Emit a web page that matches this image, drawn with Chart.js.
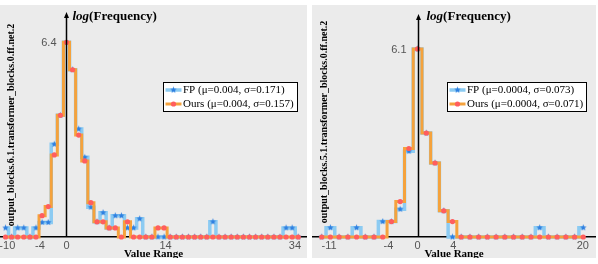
<!DOCTYPE html>
<html>
<head>
<meta charset="utf-8">
<script src="https://cdn.jsdelivr.net/npm/chart.js@4.4.0/dist/chart.umd.min.js"></script>
<style>
  body { margin: 0; background: #fff; width: 598px; height: 264px; position: relative; overflow: hidden; }
  .panel { position: absolute; top: 5px; height: 253px; background: #ebebeb; }
  canvas { display: block; }
</style>
</head>
<body>
<div class="panel" style="left:0;width:307px"><canvas id="c1" width="307" height="253"></canvas></div>
<div class="panel" style="left:312px;width:284px"><canvas id="c2" width="284" height="253"></canvas></div>
<script>
// bins are counted from the peak bin, which sits on the y axis
const leftBins = [-10,-9,-8,-7,-6,-5,-4,-3,-2,-1,0,1,2,3,4,5,6,7,8,9,10,11,12,13,14,15,16,17,18,19,20,21,22,23,24,25,26,27,28,29,30,31,32,33,34,35,36,37,38];
const leftFP   = [0.3,0,0.3,0.3,0,0.3,0.48,0.48,3.05,4.0,6.4,5.5,3.55,2.62,0.98,0.5,0.8,0.3,0.7,0.7,0.3,0.3,0.6,0,0,0,0,0,0,0,0,0,0,0,0.5,0,0,0,0,0,0,0,0,0,0,0,0.3,0.3,0];
const leftOurs = [0,0,0,0,0,0,0.7,1.0,2.7,4.0,6.4,5.5,3.35,2.5,1.13,0.5,0.5,0.3,0.3,0,0.5,0,0,0,0,0.3,0.3,0,0,0,0,0,0,0,0,0,0,0,0,0,0,0,0,0,0,0,0,0,0];
const leftTickAt   = [-9.7, -4.35, 0, 16.25, 37.45];
const leftTickText = ['-10', '-4', '0', '14', '34'];

const rightBins = [-11,-10,-9,-8,-7,-6,-5,-4,-3,-2,-1,0,1,2,3,4,5,6,7,8,9,10,11,12,13,14,15,16,17,18,19];
const rightFP   = [0,0.3,0,0,0.3,0,0,0.5,0.5,0.9,2.78,6.1,3.37,2.4,0.85,0,0,0,0,0,0,0,0,0,0,0.3,0,0,0,0,0.3];
const rightOurs = [0,0,0,0,0,0,0,0,0.5,1.15,2.87,6.1,3.37,2.4,0.85,0.5,0,0,0,0,0,0,0,0,0,0,0,0,0,0,0];
const rightTickAt   = [-10.15, -3.35, 0, 4.1, 18.95];
const rightTickText = ['-11', '-4', '0', '4', '20'];

const SANS = "'Liberation Sans', Arial, sans-serif";
const SERIF = "'Liberation Serif', 'Times New Roman', serif";

function starImage(color, r) {
  const c = document.createElement('canvas');
  const s = Math.ceil(r * 2 + 2);
  c.width = c.height = s;
  const g = c.getContext('2d');
  g.fillStyle = color;
  g.beginPath();
  for (let k = 0; k < 10; k++) {
    const rad = k % 2 ? r * 0.45 : r;
    const a = -Math.PI / 2 + k * Math.PI / 5;
    g.lineTo(s / 2 + rad * Math.cos(a), s / 2 + rad * Math.sin(a));
  }
  g.closePath();
  g.fill();
  return c;
}
const star = starImage('#2f7fe0', 3.4);

// axis arrow, titles, peak label and legend
const decoPlugin = {
  id: 'deco',
  afterDatasetsDraw(chart, args, o) {
    const ctx = chart.ctx;
    const xs = chart.scales.x, ys = chart.scales.y;
    const ax = Math.round(xs.getPixelForValue(0)) + 0.5;
    const bottom = chart.chartArea.bottom;
    ctx.save();
    // y axis with arrow
    ctx.strokeStyle = '#000';
    ctx.lineWidth = 1.5;
    ctx.beginPath();
    ctx.moveTo(ax, bottom);
    ctx.lineTo(ax, o.arrowTop + 4);
    ctx.stroke();
    ctx.fillStyle = '#000';
    ctx.beginPath();
    ctx.moveTo(ax, o.arrowTop);
    ctx.lineTo(ax - 2.5, o.arrowTop + 6);
    ctx.lineTo(ax + 2.5, o.arrowTop + 6);
    ctx.closePath();
    ctx.fill();

    // log(Frequency)
    ctx.textBaseline = 'alphabetic';
    ctx.textAlign = 'left';
    let tx = ax + o.titleDx;
    ctx.font = 'italic bold 13px ' + SERIF;
    ctx.fillText('log', tx, 15);
    tx += ctx.measureText('log').width;
    ctx.font = 'bold 13px ' + SERIF;
    ctx.fillText('(Frequency)', tx, 15);

    // peak value
    ctx.font = '11px ' + SANS;
    ctx.fillStyle = '#555';
    ctx.textAlign = 'right';
    ctx.textBaseline = 'middle';
    ctx.fillText(o.peakText, ax - o.peakDx, ys.getPixelForValue(o.peak) + 1);

    // rotated y title
    ctx.save();
    ctx.translate(o.yTitleX, o.yTitleY);
    ctx.rotate(-Math.PI / 2);
    ctx.font = 'bold 10px ' + SERIF;
    ctx.fillStyle = '#000';
    ctx.textAlign = 'center';
    ctx.fillText(o.yTitle, 0, 0);
    ctx.restore();

    // legend
    const b = o.legendBox;
    ctx.fillStyle = '#fff';
    ctx.fillRect(b[0], b[1], b[2], b[3]);
    ctx.strokeStyle = '#000';
    ctx.lineWidth = 1;
    ctx.strokeRect(b[0] + 0.5, b[1] + 0.5, b[2] - 1, b[3] - 1);
    const rows = [b[1] + 8, b[1] + 22];
    chart.data.datasets.forEach((ds, r) => {
      const y = rows[r];
      ctx.strokeStyle = ds.borderColor;
      ctx.lineWidth = ds.borderWidth;
      ctx.beginPath();
      ctx.moveTo(b[0] + 2.5, y);
      ctx.lineTo(b[0] + 18.5, y);
      ctx.stroke();
      const mx = b[0] + 10.5;
      if (ds.pointStyle === 'circle') {
        ctx.fillStyle = ds.pointBackgroundColor;
        ctx.beginPath();
        ctx.arc(mx, y, ds.pointRadius, 0, Math.PI * 2);
        ctx.fill();
      } else {
        ctx.drawImage(ds.pointStyle, mx - ds.pointStyle.width / 2, y - ds.pointStyle.height / 2);
      }
      ctx.fillStyle = '#000';
      ctx.font = '11px ' + SERIF;
      ctx.textAlign = 'left';
      ctx.textBaseline = 'middle';
      ctx.fillText(ds.label, b[0] + 20, y + 0.5);
    });
    ctx.restore();
  }
};

function makePanel(id, bins, fp, ours, fpLabel, oursLabel, xMin, xMax, yMax, tickAt, tickText, deco) {
  const toPts = vals => vals.map((v, i) => ({ x: bins[i], y: v }));
  return new Chart(document.getElementById(id), {
    type: 'line',
    data: {
      datasets: [
        {
          label: fpLabel,
          data: toPts(fp),
          stepped: 'middle',
          borderColor: '#8ccbf2',
          borderWidth: 3.5,
          pointStyle: star,
          pointRadius: 3,
          clip: false,
          order: 2
        },
        {
          label: oursLabel,
          data: toPts(ours),
          stepped: 'middle',
          borderColor: '#f5a23c',
          borderWidth: 3,
          pointStyle: 'circle',
          pointRadius: 2.6,
          pointBorderWidth: 0,
          pointBackgroundColor: '#ff5e5e',
          clip: false,
          order: 1
        }
      ]
    },
    options: {
      responsive: false,
      animation: false,
      events: [],
      layout: { autoPadding: false, padding: { top: 10, left: 0, right: 0, bottom: 0 } },
      plugins: {
        legend: { display: false },
        tooltip: { enabled: false },
        deco: deco
      },
      scales: {
        x: {
          type: 'linear',
          min: xMin,
          max: xMax,
          afterBuildTicks: s => { s.ticks = tickAt.map(v => ({ value: v })); },
          afterFit: s => {
            s.height = 21;
            s.paddingLeft = 0;
            s.paddingRight = 0;
          },
          grid: { display: false, drawTicks: false },
          border: { display: true, color: '#000', width: 1.5 },
          ticks: {
            autoSkip: false,
            maxRotation: 0,
            padding: 2,
            color: '#555',
            font: { family: SANS, size: 11 },
            callback: (v, i) => tickText[i]
          },
          title: {
            display: true,
            text: 'Value Range',
            color: '#000',
            font: { family: SERIF, size: 11, weight: 'bold', lineHeight: 1 },
            padding: { top: 0, bottom: -2 }
          }
        },
        y: {
          display: false,
          min: 0,
          max: yMax
        }
      }
    },
    plugins: [decoPlugin]
  });
}

makePanel('c1', leftBins, leftFP, leftOurs,
  'FP (\u03bc=0.004, \u03c3=0.171)', 'Ours (\u03bc=0.004, \u03c3=0.157)',
  -10.9, 39.43, 7.3, leftTickAt, leftTickText,
  { arrowTop: 7, titleDx: 6, peak: 6.4, peakText: '6.4', peakDx: 10, yTitleX: 11, yTitleY: 120,
    yTitle: 'output_blocks.6.1.transformer_blocks.0.ff.net.2', legendBox: [163, 77, 135, 30] });

makePanel('c2', rightBins, rightFP, rightOurs,
  'FP (\u03bc=0.0004, \u03c3=0.073)', 'Ours (\u03bc=0.0004, \u03c3=0.071)',
  -12.11, 20.46, 7.2, rightTickAt, rightTickText,
  { arrowTop: 9, titleDx: 8, peak: 6.1, peakText: '6.1', peakDx: 12, yTitleX: 12, yTitleY: 117,
    yTitle: 'output_blocks.5.1.transformer_blocks.0.ff.net.2', legendBox: [135, 77, 140, 30] });
</script>
</body>
</html>
